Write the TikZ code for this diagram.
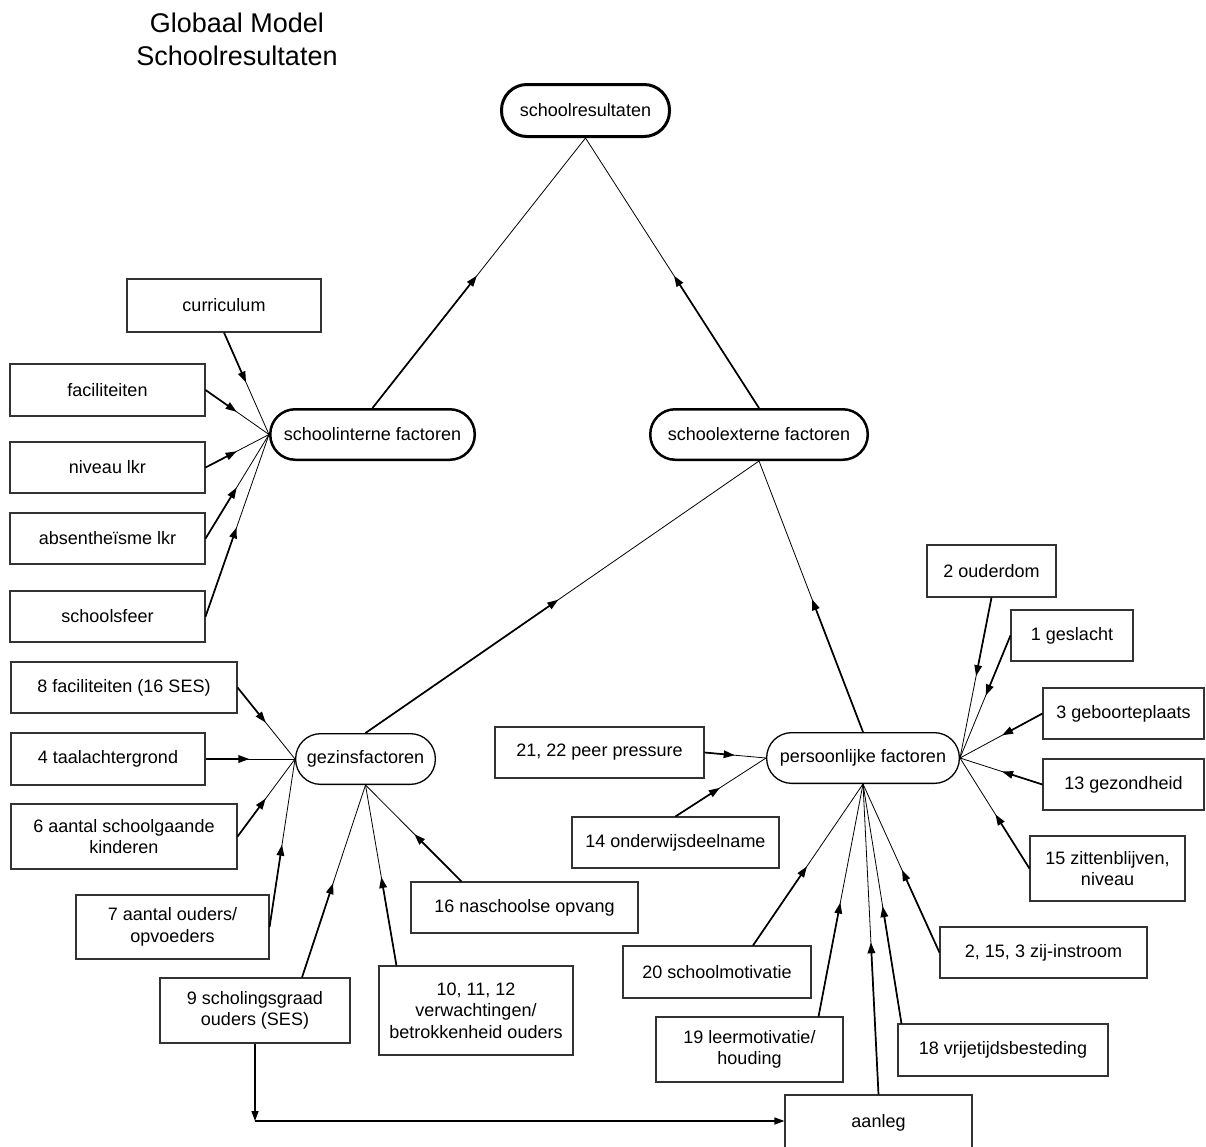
\documentclass[tikz,border=0pt]{standalone}
\usepackage{fontspec}
\setmainfont{Liberation Sans}
\usetikzlibrary{calc,arrows.meta}
\newcommand\conn[2]{%
  \draw[thinlink] (#1) -- (#2);
  \draw[arrlink] (#1) -- ($(#1)!0.49!(#2)$);}
\begin{document}
\begin{tikzpicture}[x=1pt,y=-1pt,
  every node/.style={font=\fontsize{18}{21.5}\selectfont, inner sep=0pt, align=center},
  box/.style={draw=black!80, line width=1.1pt, rectangle},
  pill/.style={draw=black, rectangle},
  thinlink/.style={line width=0.8pt},
  arrlink/.style={line width=1.7pt, -{Triangle[length=11pt,width=7.5pt]}},
  elbow/.style={line width=1.3pt, -{Triangle[length=10pt,width=7pt]}},
  titlefont/.style={font=\fontsize{27}{33}\selectfont, anchor=base}
]
\useasboundingbox (0,0) rectangle (1206,1146);

% title
\node[titlefont] (t1) at (237,32) {Globaal Model};
\node[titlefont] (t2) at (237,65) {Schoolresultaten};

% main pill nodes
\node[pill, line width=3pt, rounded corners=25.5pt, minimum width=168pt, minimum height=52pt] (res) at (585.5,110.5) {schoolresultaten};
\node[pill, line width=2.5pt, rounded corners=25pt, minimum width=204.5pt, minimum height=50.5pt] (sint) at (372.5,434.5) {schoolinterne factoren};
\node[pill, line width=2.5pt, rounded corners=25pt, minimum width=217.5pt, minimum height=50.5pt] (sext) at (759,434.5) {schoolexterne factoren};
\node[pill, line width=1.3pt, rounded corners=25pt, minimum width=139.7pt, minimum height=50.7pt] (gez) at (365.5,759) {gezinsfactoren};
\node[pill, line width=1.3pt, rounded corners=25pt, minimum width=192.7pt, minimum height=50.7pt] (pers) at (863,758) {persoonlijke factoren};

% schoolinterne boxes
\node[box, minimum width=194pt, minimum height=53pt] (curr) at (224,305.5) {curriculum};
\node[box, minimum width=195pt, minimum height=52pt] (fac) at (107.5,390) {faciliteiten};
\node[box, minimum width=195pt, minimum height=51pt] (niv) at (107.5,467.5) {niveau lkr};
\node[box, minimum width=195pt, minimum height=51pt] (abs) at (107.5,538.5) {absentheïsme lkr};
\node[box, minimum width=195pt, minimum height=51pt] (sfeer) at (107.5,616.5) {schoolsfeer};

% gezins boxes
\node[box, minimum width=226pt, minimum height=51pt] (g8) at (124,687.5) {8 faciliteiten (16 SES)};
\node[box, minimum width=194pt, minimum height=52pt] (g4) at (108,759) {4 taalachtergrond};
\node[box, minimum width=226pt, minimum height=65pt] (g6) at (124,836.5) {6 aantal schoolgaande\\kinderen};
\node[box, minimum width=193pt, minimum height=64pt] (g7) at (172.5,927) {7 aantal ouders/\\opvoeders};
\node[box, minimum width=227pt, minimum height=51pt] (g16) at (524.5,907.5) {16 naschoolse opvang};
\node[box, minimum width=190pt, minimum height=65pt] (g9) at (255,1010.5) {9 scholingsgraad\\ouders (SES)};
\node[box, minimum width=194pt, minimum height=89pt] (g10) at (476,1010.5) {10, 11, 12\\verwachtingen/\\betrokkenheid ouders};

% persoonlijke boxes
\node[box, minimum width=209pt, minimum height=51pt] (p21) at (599.5,752.5) {21, 22 peer pressure};
\node[box, minimum width=207pt, minimum height=51pt] (p14) at (675.5,842.5) {14 onderwijsdeelname};
\node[box, minimum width=129pt, minimum height=52pt] (p2) at (991.5,571) {2 ouderdom};
\node[box, minimum width=122pt, minimum height=51pt] (p1) at (1072,635.5) {1 geslacht};
\node[box, minimum width=161pt, minimum height=51pt] (p3) at (1123.5,713.5) {3 geboorteplaats};
\node[box, minimum width=161pt, minimum height=51pt] (p13) at (1123.5,784.5) {13 gezondheid};
\node[box, minimum width=155pt, minimum height=65pt] (p15) at (1107.5,868.5) {15 zittenblijven,\\niveau};
\node[box, minimum width=207pt, minimum height=51pt] (pzij) at (1043.5,952.5) {2, 15, 3 zij-instroom};
\node[box, minimum width=188pt, minimum height=52pt] (p20) at (717,972) {20 schoolmotivatie};
\node[box, minimum width=187pt, minimum height=65pt] (p19) at (749.5,1049.5) {19 leermotivatie/\\houding};
\node[box, minimum width=210pt, minimum height=52pt] (p18) at (1003,1050) {18 vrijetijdsbesteding};
\node[box, minimum width=187pt, minimum height=56pt] (aanleg) at (878.5,1123) {aanleg};

% offset start points
\coordinate (g9s) at ($(g9.north)+(47,0)$);
\coordinate (g10s) at ($(g10.north west)+(18,0)$);
\coordinate (g16s) at ($(g16.north west)+(51,0)$);
\coordinate (p20s) at ($(p20.north)+(36,0)$);
\coordinate (p19s) at ($(p19.north east)+(-25,0)$);
\coordinate (p18s) at ($(p18.north west)+(4,0)$);

% connectors
\conn{curr.south}{sint.west}
\conn{fac.east}{sint.west}
\conn{niv.east}{sint.west}
\conn{abs.east}{sint.west}
\conn{sfeer.east}{sint.west}
\conn{sint.north}{res.south}
\conn{sext.north}{res.south}
\conn{gez.north}{sext.south}
\conn{pers.north}{sext.south}
\conn{g8.east}{gez.west}
\conn{g4.east}{gez.west}
\conn{g6.east}{gez.west}
\conn{g7.east}{gez.west}
\conn{g9s}{gez.south}
\conn{g10s}{gez.south}
\conn{g16s}{gez.south}
\conn{p21.east}{pers.west}
\conn{p14.north}{pers.west}
\conn{p2.south}{pers.east}
\conn{p1.west}{pers.east}
\conn{p3.west}{pers.east}
\conn{p13.west}{pers.east}
\conn{p15.west}{pers.east}
\conn{p20s}{pers.south}
\conn{p19s}{pers.south}
\conn{aanleg.north}{pers.south}
\conn{p18s}{pers.south}
\conn{pzij.west}{pers.south}

% 9 -> aanleg elbow
\coordinate (corner) at ($(g9.south |- aanleg.west)+(0,-2)$);
\coordinate (aanlegin) at ($(aanleg.west)+(0,-2)$);
\draw[elbow] (g9.south) -- (corner);
\draw[elbow] (corner) -- (aanlegin);
\end{tikzpicture}
\end{document}
